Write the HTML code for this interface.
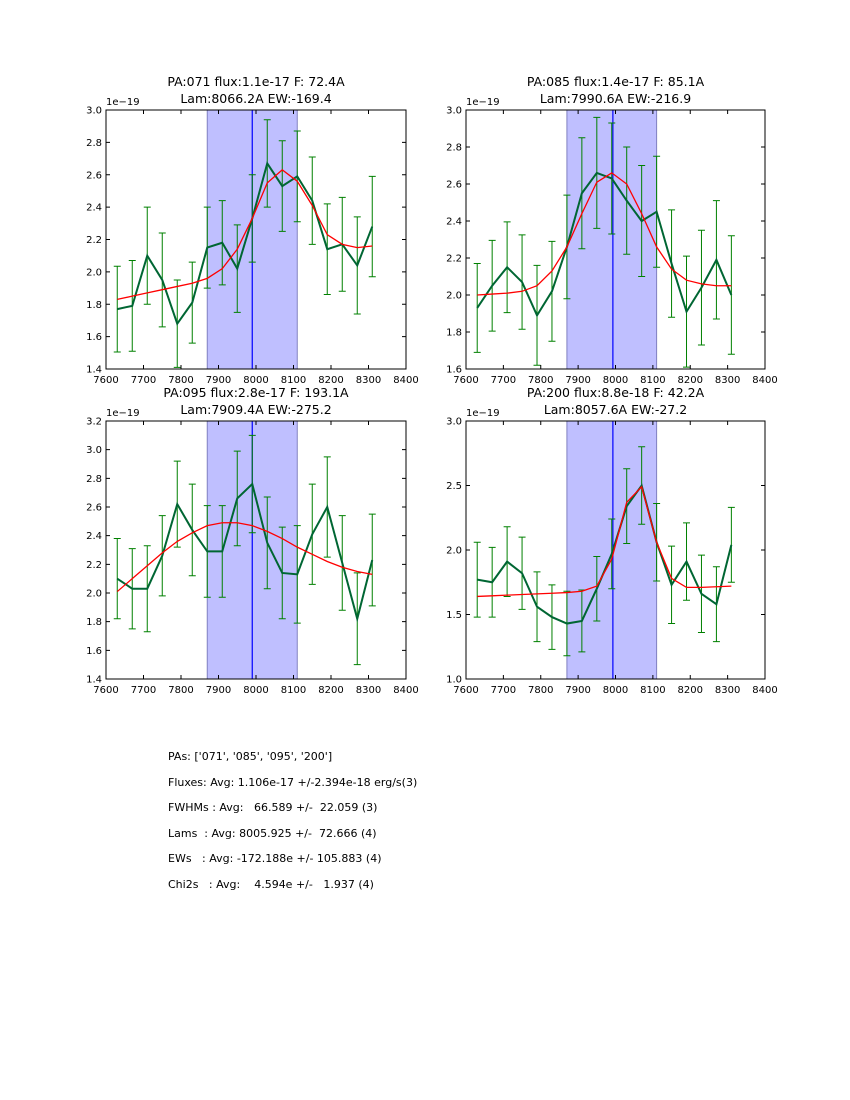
<!DOCTYPE html>
<html><head><meta charset="utf-8"><style>
body{margin:0;background:#fff;width:850px;height:1100px;overflow:hidden;font-family:"DejaVu Sans","Liberation Sans",sans-serif}
#stats{position:absolute;left:168px;top:744px;font-size:11px;line-height:25.6px;white-space:pre;color:#000}
</style></head><body>
<svg id="fig" width="850" height="1100" style="position:absolute;left:0;top:0"></svg>
<div id="stats">PAs: ['071', '085', '095', '200']
Fluxes: Avg: 1.106e-17 +/-2.394e-18 erg/s(3)
FWHMs : Avg:   66.589 +/-  22.059 (3)
Lams  : Avg: 8005.925 +/-  72.666 (4)
EWs   : Avg: -172.188e +/- 105.883 (4)
Chi2s   : Avg:    4.594e +/-   1.937 (4)</div>
<script>
const waves=[7630,7670,7710,7750,7790,7830,7870,7910,7950,7990,8030,8070,8110,8150,8190,8230,8270,8310];
const titles1=["PA:071 flux:1.1e-17 F: 72.4A","PA:085 flux:1.4e-17 F: 85.1A","PA:095 flux:2.8e-17 F: 193.1A","PA:200 flux:8.8e-18 F: 42.2A"];
const titles2=["Lam:8066.2A EW:-169.4","Lam:7990.6A EW:-216.9","Lam:7909.4A EW:-275.2","Lam:8057.6A EW:-27.2"];
const data1=[1.77,1.79,2.10,1.95,1.68,1.81,2.15,2.18,2.02,2.33,2.67,2.53,2.59,2.44,2.14,2.17,2.04,2.28];
const err1=[0.265,0.28,0.30,0.29,0.27,0.25,0.25,0.26,0.27,0.27,0.27,0.28,0.28,0.27,0.28,0.29,0.30,0.31];
const model1=[1.83,1.85,1.87,1.89,1.91,1.93,1.96,2.02,2.14,2.33,2.55,2.63,2.56,2.41,2.23,2.17,2.15,2.16];
const data2=[1.93,2.05,2.15,2.07,1.89,2.02,2.26,2.55,2.66,2.63,2.51,2.40,2.45,2.17,1.91,2.04,2.19,2.00];
const err2=[0.24,0.245,0.245,0.255,0.27,0.27,0.28,0.30,0.30,0.30,0.29,0.30,0.30,0.29,0.30,0.31,0.32,0.32];
const model2=[2.00,2.005,2.01,2.02,2.05,2.13,2.26,2.44,2.61,2.66,2.60,2.44,2.26,2.14,2.08,2.06,2.05,2.05];
const data3=[2.10,2.03,2.03,2.26,2.62,2.44,2.29,2.29,2.66,2.76,2.35,2.14,2.13,2.41,2.60,2.21,1.82,2.23];
const err3=[0.28,0.28,0.30,0.28,0.30,0.32,0.32,0.32,0.33,0.34,0.32,0.32,0.34,0.35,0.35,0.33,0.32,0.32];
const model3=[2.01,2.10,2.19,2.28,2.36,2.42,2.47,2.49,2.49,2.47,2.43,2.38,2.32,2.27,2.22,2.18,2.15,2.13];
const data4=[1.77,1.75,1.91,1.82,1.56,1.48,1.43,1.45,1.70,1.97,2.34,2.50,2.06,1.73,1.91,1.66,1.58,2.04];
const err4=[0.29,0.27,0.27,0.28,0.27,0.25,0.25,0.24,0.25,0.27,0.29,0.30,0.30,0.30,0.30,0.30,0.29,0.29];
const model4=[1.64,1.645,1.65,1.655,1.66,1.665,1.67,1.68,1.72,1.93,2.37,2.49,2.06,1.78,1.71,1.71,1.715,1.72];
const lineCenters=[7990,7993,7990,7993];
const spanLo=7870, spanHi=8110;
const xTicks=[7600,7700,7800,7900,8000,8100,8200,8300,8400];
const yTicks1=["1.4","1.6","1.8","2.0","2.2","2.4","2.6","2.8","3.0"];
const yTicks2=["1.6","1.8","2.0","2.2","2.4","2.6","2.8","3.0"];
const yTicks3=["1.4","1.6","1.8","2.0","2.2","2.4","2.6","2.8","3.0","3.2"];
const yTicks4=["1.0","1.5","2.0","2.5","3.0"];

const svg=document.getElementById('fig');
const NS="http://www.w3.org/2000/svg";
function mk(tag,attrs,parent){const e=document.createElementNS(NS,tag);for(const k in attrs)e.setAttribute(k,attrs[k]);(parent||svg).appendChild(e);return e;}
const panels=[
 {x0:106,y0:110,w:300,h:259,data:data1,err:err1,model:model1,yt:yTicks1},
 {x0:466,y0:110,w:299,h:259,data:data2,err:err2,model:model2,yt:yTicks2},
 {x0:106,y0:421,w:300,h:258,data:data3,err:err3,model:model3,yt:yTicks3},
 {x0:466,y0:421,w:299,h:258,data:data4,err:err4,model:model4,yt:yTicks4}];
panels.forEach((p,i)=>{
 const g=mk('g',{});
 
 
 const ymin=parseFloat(p.yt[0]),ymax=parseFloat(p.yt[p.yt.length-1]);
 const X=v=>p.x0+(v-7600)/800*p.w;
 const Y=v=>p.y0+p.h-(v-ymin)/(ymax-ymin)*p.h;
 const sp=mk('rect',{x:X(spanLo),y:p.y0,width:X(spanHi)-X(spanLo),height:p.h,fill:'#bfbfff',stroke:'#8080c0','stroke-width':1},g);
 
 
 const vl=mk('line',{x1:X(lineCenters[i]),x2:X(lineCenters[i]),y1:p.y0,y2:p.y0+p.h,stroke:'#0000ff','stroke-width':1.2},g);
 
 
 p.data.forEach((d,j)=>{
  const x=X(waves[j]),a=Y(d-p.err[j]),b=Y(d+p.err[j]);
  const e=mk('path',{d:`M${x},${a}V${b}M${x-3.5},${a}h7M${x-3.5},${b}h7`,stroke:'#008000','stroke-width':1,fill:'none'},g);
  
  
 });
 const dl=mk('polyline',{points:p.data.map((d,j)=>X(waves[j])+','+Y(d)).join(' '),fill:'none',stroke:'#006633','stroke-width':2},g);
 
 
 const ml=mk('polyline',{points:p.model.map((d,j)=>X(waves[j])+','+Y(d)).join(' '),fill:'none',stroke:'#ff0000','stroke-width':1.3},g);
 
 
 mk('rect',{x:p.x0,y:p.y0,width:p.w,height:p.h,fill:'none',stroke:'#000','stroke-width':1},g);
 xTicks.forEach(t=>{const x=X(t);
  mk('path',{d:`M${x},${p.y0+p.h}v-4M${x},${p.y0}v4`,stroke:'#000','stroke-width':1},g);
  const tx=mk('text',{x:x,y:p.y0+p.h+14,'font-size':10,'text-anchor':'middle'},g);tx.textContent=t;
  
  
 });
 p.yt.forEach(t=>{const y=Y(parseFloat(t));
  mk('path',{d:`M${p.x0},${y}h4M${p.x0+p.w},${y}h-4`,stroke:'#000','stroke-width':1},g);
  const tx=mk('text',{x:p.x0-4,y:y+3.5,'font-size':10,'text-anchor':'end'},g);tx.textContent=t;
  
  
 });
 const off=mk('text',{x:p.x0,y:p.y0-5,'font-size':10},g);off.textContent='1e\u221219';
 
 
 const cx=p.x0+p.w/2;
 const t1=mk('text',{x:cx,y:p.y0-24,'font-size':12.5,'text-anchor':'middle'},g);t1.textContent=titles1[i];
 
 
 const t2=mk('text',{x:cx,y:p.y0-7,'font-size':12.5,'text-anchor':'middle'},g);t2.textContent=titles2[i];
 
 
});
</script>
</body></html>
